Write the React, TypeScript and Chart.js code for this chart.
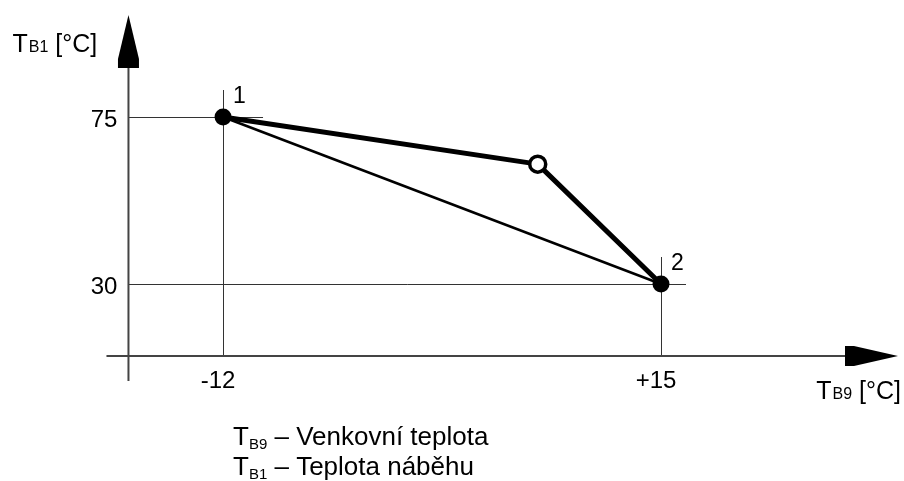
import React, { useEffect, useRef } from "react";
import { Chart, registerables } from "chart.js";

Chart.register(...registerables);

// ---- data ----
const curveX = [-12, 7.4, 15]; // T_B9 outdoor temperature [°C]
const curveY = [75, 62.3, 30]; // T_B1 flow temperature [°C]
const pointLabels = ["1", "", "2"];
const lineX = [-12, 15];
const lineY = [75, 30];
const xTickValues = [-12, 15];
const xTickLabels = ["-12", "+15"];
const yTickValues = [75, 30];
const yTickLabels = ["75", "30"];
const axisCrossX = -17.83;
const axisCrossY = 10.6;
const xRange = [-25.75, 29.98];
const yRange = [-23.08, 106.53];
const xTitle = ["T", "B9", " [°C]"];
const yTitle = ["T", "B1", " [°C]"];
const legendLines = [
  ["T", "B9", " – Venkovní teplota"],
  ["T", "B1", " – Teplota náběhu"],
];

const FONT = '"Liberation Sans", Arial, Helvetica, sans-serif';

function drawSub(ctx: CanvasRenderingContext2D, parts: string[], x: number, y: number, main: number, sub: number, subDy: number, gap: number) {
  ctx.textAlign = "left";
  ctx.textBaseline = "alphabetic";
  ctx.font = `${main}px ${FONT}`;
  ctx.fillText(parts[0], x, y);
  let cx = x + ctx.measureText(parts[0]).width + gap;
  ctx.font = `${sub}px ${FONT}`;
  ctx.fillText(parts[1], cx, y + subDy);
  cx += ctx.measureText(parts[1]).width;
  ctx.font = `${main}px ${FONT}`;
  ctx.fillText(parts[2], cx, y);
}

function widthSub(ctx: CanvasRenderingContext2D, parts: string[], main: number, sub: number, gap: number) {
  ctx.font = `${main}px ${FONT}`;
  let w = ctx.measureText(parts[0]).width + ctx.measureText(parts[2]).width + gap;
  ctx.font = `${sub}px ${FONT}`;
  w += ctx.measureText(parts[1]).width;
  return w;
}

const diagramPlugin = {
  id: "diagram",
  beforeDatasetsDraw(chart: any) {
    const { ctx, chartArea, scales } = chart;
    const xs = scales.x;
    const ys = scales.y;
    const ox = xs.getPixelForValue(axisCrossX);
    const oy = ys.getPixelForValue(axisCrossY);
    ctx.save();
    // guide lines
    ctx.strokeStyle = "#333";
    ctx.lineWidth = 1;
    const over = [40, 25];
    [0, curveX.length - 1].forEach((i, k) => {
      const px = xs.getPixelForValue(curveX[i]);
      const py = ys.getPixelForValue(curveY[i]);
      ctx.beginPath();
      ctx.moveTo(ox, Math.round(py) + 0.5);
      ctx.lineTo(px + over[k], Math.round(py) + 0.5);
      ctx.moveTo(Math.round(px) + 0.5, py - 27);
      ctx.lineTo(Math.round(px) + 0.5, oy);
      ctx.stroke();
    });
    // axes
    const yTip = chartArea.top + 15;
    const yBase = chartArea.top + 68;
    const xTip = chartArea.right - 6;
    const xBase = chartArea.right - 59;
    ctx.strokeStyle = "#444";
    ctx.lineWidth = 2;
    ctx.beginPath();
    ctx.moveTo(ox, oy + 25);
    ctx.lineTo(ox, yBase);
    ctx.moveTo(ox - 22, oy);
    ctx.lineTo(xBase, oy);
    ctx.stroke();
    ctx.fillStyle = "#000";
    ctx.beginPath();
    ctx.moveTo(ox, yTip);
    ctx.lineTo(ox - 10.5, yBase - 9);
    ctx.lineTo(ox - 10.5, yBase);
    ctx.lineTo(ox + 10.5, yBase);
    ctx.lineTo(ox + 10.5, yBase - 9);
    ctx.closePath();
    ctx.fill();
    ctx.beginPath();
    ctx.moveTo(xTip, oy);
    ctx.lineTo(xBase + 9, oy - 10);
    ctx.lineTo(xBase, oy - 10);
    ctx.lineTo(xBase, oy + 10);
    ctx.lineTo(xBase + 9, oy + 10);
    ctx.closePath();
    ctx.fill();
    ctx.restore();
  },
  afterDatasetsDraw(chart: any) {
    const { ctx, chartArea, scales } = chart;
    const xs = scales.x;
    const ys = scales.y;
    const ox = xs.getPixelForValue(axisCrossX);
    const oy = ys.getPixelForValue(axisCrossY);
    ctx.save();
    ctx.fillStyle = "#000";
    ctx.font = `24px ${FONT}`;
    ctx.textBaseline = "alphabetic";
    // y ticks
    ctx.textAlign = "right";
    yTickValues.forEach((v, i) => {
      ctx.fillText(yTickLabels[i], ox - 11, ys.getPixelForValue(v) + 10);
    });
    // x ticks
    ctx.textAlign = "center";
    xTickValues.forEach((v, i) => {
      ctx.fillText(xTickLabels[i], xs.getPixelForValue(v) - 5, oy + 32);
    });
    // point labels
    ctx.textAlign = "left";
    ctx.font = `23px ${FONT}`;
    curveX.forEach((v, i) => {
      if (!pointLabels[i]) return;
      ctx.fillText(pointLabels[i], xs.getPixelForValue(v) + 10, ys.getPixelForValue(curveY[i]) - 14);
    });
    // axis titles
    drawSub(ctx, yTitle, ox - 116, chartArea.top + 52, 25, 16, 0, 1);
    const wx = widthSub(ctx, xTitle, 25, 16, 1);
    drawSub(ctx, xTitle, chartArea.right - 3 - wx, oy + 43, 25, 16, 0, 1);
    // legend
    legendLines.forEach((parts, i) => {
      drawSub(ctx, parts, chartArea.left + 233, chartArea.top + 445 + i * 30, 26, 15, 4, 0);
    });
    ctx.restore();
  },
};

export default function App() {
  const ref = useRef<HTMLCanvasElement | null>(null);
  useEffect(() => {
    if (!ref.current) return;
    const chart = new Chart(ref.current, {
      type: "scatter",
      data: {
        datasets: [
          {
            data: curveX.map((x, i) => ({ x, y: curveY[i] })),
            showLine: true,
            borderColor: "#000",
            borderWidth: 5,
            borderJoinStyle: "round",
            borderCapStyle: "round",
            pointRadius: [8.5, 8, 8.5],
            pointBackgroundColor: ["#000", "#fff", "#000"],
            pointBorderColor: "#000",
            pointBorderWidth: [0, 3.5, 0],
            pointHoverRadius: 0,
          } as any,
          {
            data: lineX.map((x, i) => ({ x, y: lineY[i] })),
            showLine: true,
            borderColor: "#000",
            borderWidth: 2.5,
            pointRadius: 0,
          } as any,
        ],
      },
      options: {
        animation: false,
        responsive: false,
        layout: { padding: 0, autoPadding: false },
        plugins: { legend: { display: false }, tooltip: { enabled: false } },
        events: [],
        scales: {
          x: { type: "linear", min: xRange[0], max: xRange[1], display: false },
          y: { type: "linear", min: yRange[0], max: yRange[1], display: false },
        },
      } as any,
      plugins: [diagramPlugin],
    });
    return () => chart.destroy();
  }, []);
  return (
    <div style={{ position: "fixed", left: 0, top: 0, width: 904, height: 481, background: "#fff" }}>
      <canvas ref={ref} width={904} height={481} style={{ display: "block" }} />
    </div>
  );
}
